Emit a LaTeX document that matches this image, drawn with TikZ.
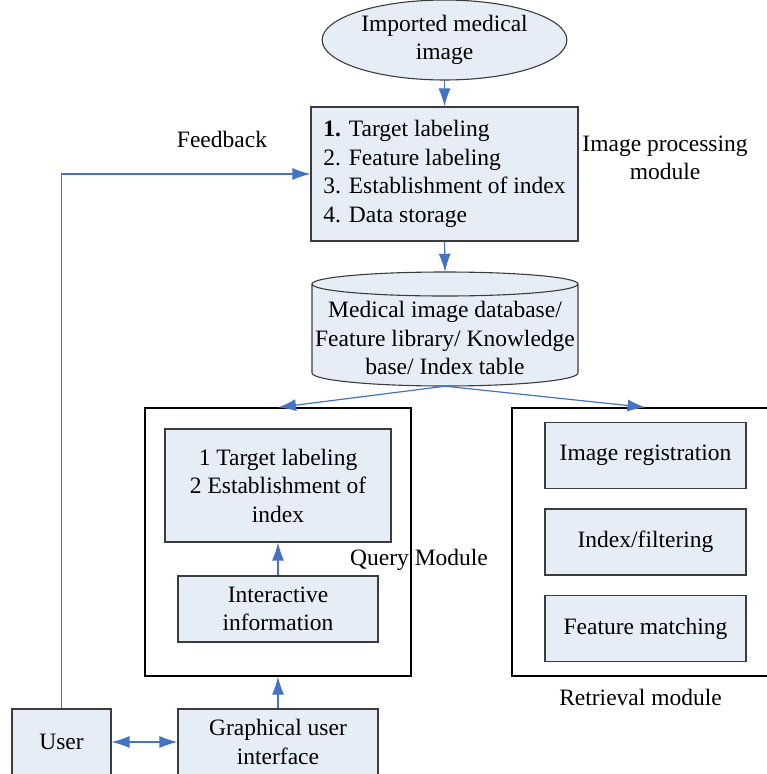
\documentclass[tikz,border=0pt]{standalone}
\usepackage{fontspec}
\setmainfont{Liberation Serif}
\usetikzlibrary{arrows.meta,shapes.geometric}
\definecolor{boxfill}{RGB}{231,237,247}
\definecolor{boxline}{RGB}{60,60,60}
\definecolor{linkblue}{RGB}{68,114,196}

\begin{document}
\begin{tikzpicture}[x=1pt,y=-1pt,>={Latex[length=18pt,width=12pt]},
  every node/.style={font=\fontsize{23.5}{28.5}\selectfont},
  box/.style={draw=boxline,fill=boxfill,line width=1.1pt,align=center},
  module/.style={draw=black,line width=1.2pt},
  link/.style={->,draw=linkblue,line width=1.2pt}]
  \useasboundingbox (0,0) rectangle (767,774);
  \node[box,ellipse,minimum width=234pt,minimum height=66pt] (img) at (444.5,40) {Imported medical\\image};
  \node[box,align=left,minimum width=267pt,minimum height=134pt] (proc) [below of=img,node distance=134pt] {\textbf{1.} Target labeling\\2. Feature labeling\\3. Establishment of index\\4. Data storage};
  \node (proclabel) at (665,158) [align=center] {Image processing\\module};
  \node (fb) at (222,147) [anchor=base] {Feedback};
  % database drum
  \filldraw[box] (312,284) -- (312,373) arc[start angle=180,end angle=0,x radius=133,y radius=13] -- (578,284) arc[start angle=0,end angle=-180,x radius=133,y radius=12] -- cycle;
  \draw[boxline,line width=1.1pt] (312,284) arc[start angle=180,end angle=0,x radius=133,y radius=12];
  \node (db) at (445,329) [minimum width=266pt,minimum height=114pt] {};
  \node (dbtext) at (445,338) [align=center] {Medical image database/\\Feature library/ Knowledge\\base/ Index table};
  % query module
  \node[module,minimum width=266pt,minimum height=268pt] (query) at (278,542) {};
  \node[box,minimum width=226pt,minimum height=113pt] (qtask) at (278,485.5) {1 Target labeling\\2 Establishment of\\index};
  \node[box,minimum width=200pt,minimum height=66pt] (inter) [below of=qtask,node distance=123.5pt] {Interactive\\information};
  \node (qlabel) at (419,565) [anchor=base] {Query Module};
  % retrieval module
  \node[module,minimum width=267pt,minimum height=268pt] (retr) at (645.5,542) {};
  \node[box,minimum width=201pt,minimum height=66pt] (reg) at (645.5,455.5) {Image registration};
  \node[box,minimum width=201pt,minimum height=66pt] (filt) [below of=reg,node distance=86.5pt] {Index/filtering};
  \node[box,minimum width=201pt,minimum height=66pt] (match) [below of=filt,node distance=86.5pt] {Feature matching};
  \node (rlabel) at (640.5,705) [anchor=base] {Retrieval module};
  % user side
  \node[box,minimum width=200pt,minimum height=66pt] (gui) [below of=query,node distance=200pt] {Graphical user\\interface};
  \node[box,minimum width=99pt,minimum height=66pt] (user) [left of=gui,node distance=216.5pt] {User};
  \draw[link] (img.south) -- (proc.north);
  \draw[link] (proc.south) -- (db.north);
  \draw[link] (db.south) -- (query.north);
  \draw[link] (db.south) -- (retr.north);
  \draw[link] (inter.north) -- (qtask.south);
  \draw[link] (gui.north) -- (query.south);
  \draw[link,<->] (user.east) -- (gui.west);
  \draw[link] (user.north) |- (proc.west);
\end{tikzpicture}
\end{document}
